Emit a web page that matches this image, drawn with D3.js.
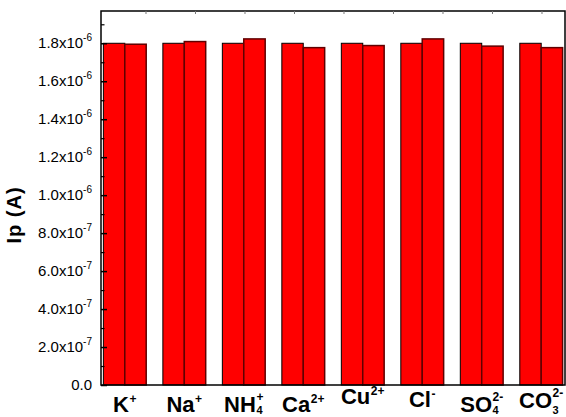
<!DOCTYPE html>
<html>
<head>
<meta charset="utf-8">
<script src="https://cdn.jsdelivr.net/npm/d3@7"></script>
<style>
  html, body { margin: 0; padding: 0; background: #fff; }
  svg { display: block; }
  text { font-family: Arial, "Liberation Sans", sans-serif; fill: #000; }
</style>
</head>
<body>
<svg id="chart" width="566" height="417"></svg>
<script>
// Ion labels: base text, subscript and superscript parts
const ionBase = ["K", "Na", "NH", "Ca", "Cu", "Cl", "SO", "CO"];
const ionSub  = ["", "", "4", "", "", "", "4", "3"];
const ionSup  = ["+", "+", "+", "2+", "2+", "-", "2-", "2-"];

// Peak current (A) for the two measurements of each ion
const ipFirst  = [1.800e-6, 1.800e-6, 1.800e-6, 1.800e-6, 1.800e-6, 1.800e-6, 1.800e-6, 1.800e-6];
const ipSecond = [1.795e-6, 1.809e-6, 1.823e-6, 1.777e-6, 1.788e-6, 1.823e-6, 1.785e-6, 1.777e-6];

// Axis ticks
const yMajorTicks = [0, 2e-7, 4e-7, 6e-7, 8e-7, 1.0e-6, 1.2e-6, 1.4e-6, 1.6e-6, 1.8e-6];
const yMinorTicks = [1e-7, 3e-7, 5e-7, 7e-7, 9e-7, 1.1e-6, 1.3e-6, 1.5e-6, 1.7e-6, 1.9e-6];
const topTicks = [1, 2, 3, 4, 5, 6, 7, 8, 9];

const svg = d3.select("#chart");
const L = 101, R = 565, T = 11, B = 385;

const x = d3.scaleLinear().domain([0.6, 8.4]).range([L, R]);
const xTop = d3.scaleLinear().domain([0.101, 9.475]).range([L, R]);
const y = d3.scaleLinear().domain([0, 1.97e-6]).range([B, T]);
const barW = 0.36;

// Bars: first measurement left of the category centre, second to the right
const groups = ionBase.map((b, i) => ({ i, c: i + 1, v1: ipFirst[i], v2: ipSecond[i] }));

svg.append("g").selectAll("rect.first").data(groups).join("rect")
  .attr("x", d => x(d.c - barW))
  .attr("y", d => y(d.v1))
  .attr("width", d => x(d.c) - x(d.c - barW))
  .attr("height", d => y(0) - y(d.v1))
  .attr("fill", "#ff0000")
  .attr("stroke", "#000")
  .attr("stroke-width", 1);

svg.append("g").selectAll("rect.second").data(groups).join("rect")
  .attr("x", d => x(d.c))
  .attr("y", d => y(d.v2))
  .attr("width", d => x(d.c + barW) - x(d.c))
  .attr("height", d => y(0) - y(d.v2))
  .attr("fill", "#ff0000")
  .attr("stroke", "#600000")
  .attr("stroke-width", 1.5);

// Frame
svg.append("rect")
  .attr("x", L).attr("y", T).attr("width", R - L).attr("height", B - T)
  .attr("fill", "none").attr("stroke", "#000").attr("stroke-width", 1.5);

// Y axis with inward ticks
const yAxis = svg.append("g").attr("transform", `translate(${L},0)`);
yAxis.call(d3.axisRight(y).tickValues(yMajorTicks).tickSize(6).tickFormat(""))
  .call(g => g.select(".domain").remove())
  .selectAll("line").attr("stroke", "#000").attr("stroke-width", 1.5);
const yMinor = svg.append("g").attr("transform", `translate(${L},0)`);
yMinor.call(d3.axisRight(y).tickValues(yMinorTicks).tickSize(3.5).tickFormat(""))
  .call(g => g.select(".domain").remove())
  .selectAll("line").attr("stroke", "#000").attr("stroke-width", 1.2);

// Top axis ticks
const topAxis = svg.append("g").attr("transform", `translate(0,${T})`);
topAxis.call(d3.axisBottom(xTop).tickValues(topTicks).tickSize(3).tickFormat(""))
  .call(g => g.select(".domain").remove())
  .selectAll("line").attr("stroke", "#777").attr("stroke-width", 1);

// Y tick labels: mantissa x10 with superscript exponent
const yLab = svg.append("g");
yMajorTicks.forEach(v => {
  const t = yLab.append("text")
    .attr("x", 92).attr("y", y(v) + 5)
    .attr("text-anchor", "end")
    .attr("font-size", 15);
  if (v === 0) {
    t.text("0.0");
  } else {
    const e = Math.floor(Math.log10(v) + 1e-9);
    const m = v / Math.pow(10, e);
    t.append("tspan").text(m.toFixed(1) + "x10");
    t.append("tspan").attr("font-size", 10).attr("dy", -7).text(String(e));
  }
});

// Y axis title
svg.append("text")
  .attr("transform", `translate(21,215) rotate(-90)`)
  .attr("text-anchor", "middle")
  .attr("font-size", 20)
  .attr("font-weight", "bold")
  .attr("letter-spacing", 1)
  .text("Ip (A)");

// Category labels with stacked sub/superscripts
const baseY = [411.7, 411.7, 411.7, 411.7, 404, 406.7, 411.7, 408];
ionBase.forEach((b, i) => {
  const g = svg.append("g");
  const base = g.append("text").attr("x", 0).attr("y", 0)
    .attr("font-size", 22).attr("font-weight", "bold").text(b);
  const w = base.node().getComputedTextLength();
  let sw = 0;
  const hasSub = !!ionSub[i];
  if (ionSup[i]) {
    const s = g.append("text").attr("x", w + 0.5).attr("y", hasSub ? -11 : -9)
      .attr("font-size", 12).attr("font-weight", "bold").text(ionSup[i]);
    sw = Math.max(sw, s.node().getComputedTextLength());
  }
  if (hasSub) {
    // keep the subscript inside the bottom edge
    const sy = Math.min(6.5, 414 - baseY[i]);
    const s = g.append("text").attr("x", w + 0.5).attr("y", sy)
      .attr("font-size", 11).attr("font-weight", "bold").text(ionSub[i]);
    sw = Math.max(sw, s.node().getComputedTextLength());
  }
  const total = w + sw + 0.5;
  g.attr("transform", `translate(${x(i + 1) - total / 2},${baseY[i]})`);
});
</script>
</body>
</html>
